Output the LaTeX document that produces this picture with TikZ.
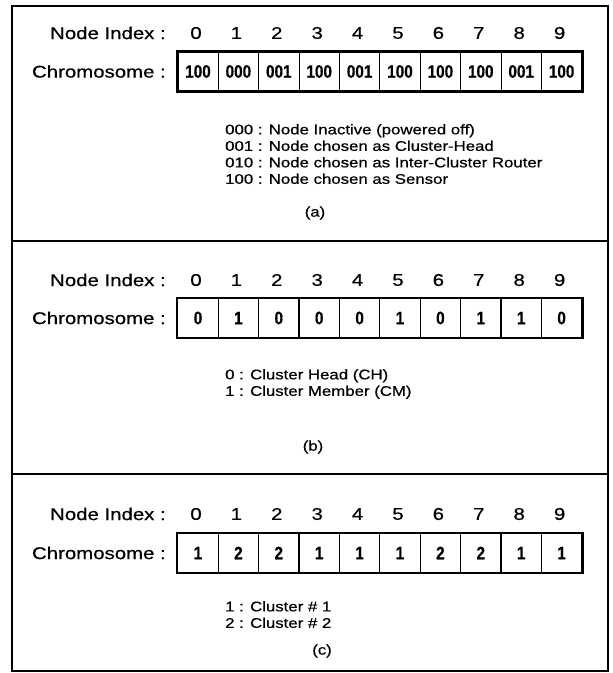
\documentclass[tikz,border=0pt]{standalone}
\usepackage{fontspec}
\setmainfont{Liberation Sans}
\newfontfamily\widefont[FakeStretch=1.2,FakeBold=0.6]{Liberation Sans}
\newfontfamily\genefont[FakeStretch=0.85,FakeBold=0.6]{Liberation Sans}

\tikzset{
  rowlabel/.style={font=\widefont\fontsize{17}{19}\selectfont, anchor=east, inner sep=0pt},
  index/.style={font=\widefont\fontsize{17}{19}\selectfont, inner sep=0pt},
  gene/.style={draw, line width=1.3pt, minimum width=40.4pt, minimum height=39pt,
    inner sep=0pt, font=\genefont\bfseries\fontsize{18}{20}\selectfont},
  legend/.style={font=\widefont\fontsize{14}{16.5}\selectfont, anchor=north west,
    align=left, inner sep=0pt},
  caption/.style={font=\widefont\fontsize{14}{17}\selectfont, inner sep=0pt}
}

\begin{document}
\begin{tikzpicture}[x=1pt,y=-1pt]
  \useasboundingbox (0,0) rectangle (613,673);

  % frame and the two dividers
  \draw[line width=1.8pt] (12,6) rectangle (608,671);
  \draw[line width=1.5pt] (12,241) -- (608,241);
  \draw[line width=1.5pt] (12,474) -- (608,474);

  % (a) three-bit genes
  \node[rowlabel] (aidx) at (166,33) {Node Index :};
  \node[rowlabel] (achr) at (166,71.5) {Chromosome :};
  \foreach \i in {0,...,9}
    \node[index] (ai\i) at ({196+40.4*\i},33) {\i};
  \foreach \g [count=\i from 0] in {100,000,001,100,001,100,100,100,001,100}
    \node[gene, line width=0.9pt] (ag\i) at ({198+40.4*\i},71.5) {\g};
  \draw[line width=2.5pt] (ag0.north west) rectangle (ag9.south east);
  \node[legend] (aleg) at (225,124) {000 : Node Inactive (powered off)\\
    001 : Node chosen as Cluster-Head\\
    010 : Node chosen as Inter-Cluster Router\\
    100 : Node chosen as Sensor};
  \node[caption] (acap) at (315,213) {(a)};

  % (b) one-bit genes
  \node[rowlabel] (bidx) at (166,280) {Node Index :};
  \node[rowlabel] (bchr) at (166,318) {Chromosome :};
  \foreach \i in {0,...,9}
    \node[index] (bi\i) at ({196+40.4*\i},280) {\i};
  \foreach \g [count=\i from 0] in {0,1,0,0,0,1,0,1,1,0}
    \node[gene] (bg\i) at ({198+40.4*\i},318) {\g};
  \draw[line width=2.5pt] (bg0.north west) rectangle (bg9.south east);
  \node[legend] (bleg) at (225,369) {0 : Cluster Head (CH)\\
    1 : Cluster Member (CM)};
  \node[caption] (bcap) at (313,447) {(b)};

  % (c) cluster numbers
  \node[rowlabel] (cidx) at (166,514) {Node Index :};
  \node[rowlabel] (cchr) at (166,553) {Chromosome :};
  \foreach \i in {0,...,9}
    \node[index] (ci\i) at ({196+40.4*\i},514) {\i};
  \foreach \g [count=\i from 0] in {1,2,2,1,1,1,2,2,1,1}
    \node[gene] (cg\i) at ({198+40.4*\i},553) {\g};
  \draw[line width=2.5pt] (cg0.north west) rectangle (cg9.south east);
  \node[legend] (cleg) at (225,601) {1 : Cluster \# 1\\
    2 : Cluster \# 2};
  \node[caption] (ccap) at (322,651) {(c)};
\end{tikzpicture}
\end{document}
